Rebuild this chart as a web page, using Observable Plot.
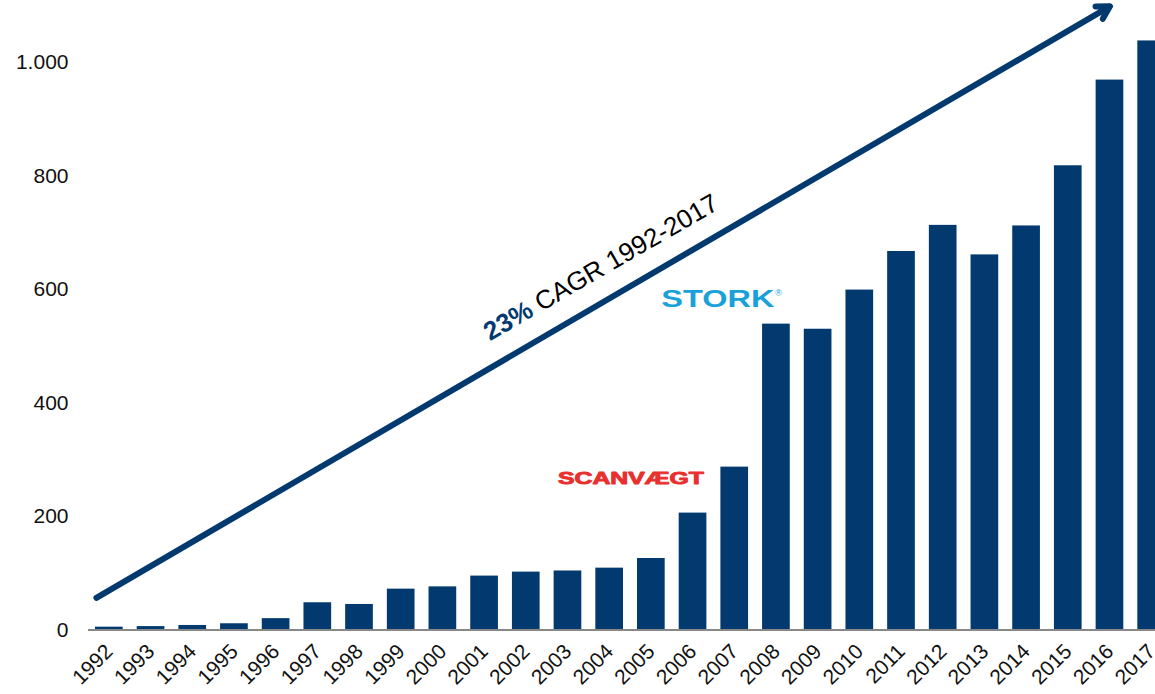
<!DOCTYPE html>
<html><head><meta charset="utf-8">
<script src="https://cdn.jsdelivr.net/npm/d3@7"></script>
<script src="https://cdn.jsdelivr.net/npm/@observablehq/plot@0.6"></script>
<style>
html,body{margin:0;padding:0;overflow:hidden;background:#fff;}
#chart svg{overflow:visible;display:block;}
</style>
</head><body><div id="chart"></div>
<script>
// ---- data ----
const years = ["1992","1993","1994","1995","1996","1997","1998","1999","2000","2001","2002","2003","2004","2005","2006","2007","2008","2009","2010","2011","2012","2013","2014","2015","2016","2017"];
const values = [5, 6, 8, 11, 20, 48, 45, 72, 76, 95, 102, 104, 109, 126, 206, 287, 539, 530, 599, 667, 713, 661, 712, 818, 969, 1038];
const yTicks = [0, 200, 400, 600, 800, 1000];
const cagrBold = "23%\u00a0";
const cagrRest = "CAGR 1992-2017";
const arrowStart = {year: "1992", value: 70};
const arrowEnd = {year: "2016", value: 1099};
const labelAnchor = {year: "2002", value: 561};
const scanvaegt = {name: "SCANVÆGT", year: "2003", value: 267};
const stork = {name: "STORK", year: "2005", value: 583};

const navy = "#023a70";
const data = years.map((y, i) => ({year: y, value: values[i]}));
const fmt = d3.formatLocale({decimal: ",", thousands: ".", grouping: [3], currency: ["", ""]}).format(",");

const chart = Plot.plot({
  width: 1155,
  height: 694,
  marginTop: 62,
  marginBottom: 64.5,
  marginLeft: 88,
  marginRight: 0,
  style: {fontFamily: "'Liberation Sans', Arial, sans-serif", fontSize: "21px", color: "#111", background: "#fff"},
  x: {domain: years, range: [88, 1172], paddingInner: 0.336, paddingOuter: 0.168, round: false, label: null},
  y: {domain: [0, 1000], ticks: yTicks, label: null},
  marks: [
    Plot.barY(data, {x: "year", y: "value", fill: navy}),
    Plot.ruleY([0], {stroke: "#888", strokeWidth: 2.2}),
    Plot.axisY({ticks: yTicks, tickSize: 0, tickPadding: 20, tickFormat: fmt, fontSize: 21, label: null}),
    Plot.axisX({tickSize: 0, tickPadding: 18, tickRotate: -45, fontSize: 21, label: null}),
    Plot.arrow([0], {
      x1: () => arrowStart.year, y1: () => arrowStart.value,
      x2: () => arrowEnd.year, y2: () => arrowEnd.value,
      stroke: navy, strokeWidth: 6, headLength: 3.6, insetStart: -15
    }),
    Plot.text([cagrBold], {x: () => labelAnchor.year, y: () => labelAnchor.value, text: d => d, dx: 15,
      rotate: -30, textAnchor: "end", fill: navy, fontWeight: "bold", fontSize: 26, lineAnchor: "bottom"}),
    Plot.text([cagrRest], {x: () => labelAnchor.year, y: () => labelAnchor.value, text: d => d, dx: 15,
      rotate: -30, textAnchor: "start", fill: "#000", fontSize: 26, lineAnchor: "bottom"}),
    Plot.text([scanvaegt.name], {x: () => scanvaegt.year, y: () => scanvaegt.value, text: d => d, dx: -10,
      textAnchor: "start", lineAnchor: "middle", fill: "#e8302e", stroke: "#e8302e", strokeWidth: 0.9,
      fontWeight: "bold", fontSize: 17}),
    Plot.text([stork.name], {x: () => stork.year, y: () => stork.value, text: d => d, dx: 10,
      textAnchor: "start", lineAnchor: "middle", fill: "#1aa1d9", fontWeight: "bold", fontSize: 24}),
    Plot.text(["®"], {x: () => stork.year, y: () => stork.value, text: d => d, dx: 124, dy: -6,
      textAnchor: "start", lineAnchor: "middle", fill: "#1aa1d9", fontSize: 9})
  ]
});

const stretch = (name, len) => d3.select(chart).selectAll("text")
  .filter(function() { return this.textContent === name; })
  .attr("textLength", len).attr("lengthAdjust", "spacingAndGlyphs");
stretch(scanvaegt.name, 146);
stretch(stork.name, 113);

document.getElementById("chart").appendChild(chart);
</script>
</body></html>
